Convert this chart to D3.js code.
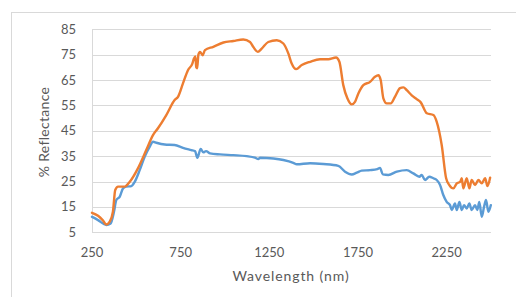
<!DOCTYPE html>
<html>
<head>
<meta charset="utf-8">
<script src="https://cdn.jsdelivr.net/npm/d3@7"></script>
<style>
  html, body { margin: 0; padding: 0; background: #fff; }
  svg { display: block; }
  text { font-family: Lato, "Open Sans", sans-serif; fill: #595959; }
</style>
</head>
<body>
<div id="chart"></div>
<script>
// Orange series (wavelength nm / % reflectance)
const orangeWl = [250, 284, 310, 331, 350, 368, 381, 397, 434, 463, 509, 556, 594, 622, 669, 716, 735, 763, 791, 816, 825, 833, 838, 843, 850, 859, 874, 887, 934, 991, 1047, 1103, 1141, 1160, 1185, 1207, 1244, 1292, 1329, 1357, 1376, 1401, 1433, 1480, 1536, 1583, 1626, 1645, 1667, 1690, 1715, 1733, 1752, 1780, 1818, 1846, 1865, 1878, 1893, 1912, 1935, 1959, 1987, 2006, 2025, 2053, 2081, 2104, 2138, 2175, 2194, 2222, 2247, 2265, 2288, 2307, 2326, 2335, 2344, 2363, 2378, 2391, 2410, 2429, 2448, 2467, 2480, 2495]
const orangeVal = [12.7, 11.5, 9.8, 8.1, 9.2, 13.1, 21.7, 23, 23, 24.9, 30.2, 37.4, 43.3, 46, 51.2, 57.1, 58.4, 63.7, 68.9, 71.5, 73.5, 74.3, 70, 69.6, 75, 76.1, 74.8, 76.8, 78.1, 79.8, 80.4, 81, 80, 78, 76.1, 77.4, 80, 80.7, 79.4, 75.5, 71.5, 69.3, 70.9, 72.2, 73.2, 73.2, 73.9, 72.2, 63, 57.8, 55.4, 56.4, 59.7, 63, 64.3, 66.3, 66.9, 65, 57.8, 55.8, 55.8, 58.5, 61.8, 62.1, 61, 59, 57.5, 56.2, 51.9, 51.2, 48.5, 39.4, 26.3, 23.6, 22.3, 24.3, 24.9, 26.3, 22.3, 26.3, 22.3, 25.6, 23.6, 25.6, 24.3, 26.3, 23.2, 26.5]

// Blue series
const blueWl = [250, 284, 331, 355, 374, 387, 406, 425, 443, 472, 491, 519, 547, 575, 594, 613, 660, 716, 763, 810, 831, 844, 863, 878, 893, 916, 972, 1047, 1122, 1169, 1188, 1198, 1273, 1329, 1385, 1405, 1480, 1555, 1639, 1677, 1715, 1743, 1771, 1818, 1859, 1874, 1890, 1921, 1969, 2025, 2062, 2096, 2109, 2128, 2152, 2175, 2194, 2213, 2231, 2250, 2269, 2279, 2297, 2307, 2322, 2335, 2348, 2363, 2378, 2391, 2410, 2423, 2434, 2448, 2461, 2472, 2485, 2499]
const blueVal = [11.1, 9.8, 7.9, 8.5, 13.1, 17.7, 19, 22.3, 23, 23.2, 24.9, 29.5, 34.8, 38.7, 40.7, 40.3, 39.6, 39.4, 38.3, 37.4, 37, 34.4, 37.8, 36.5, 37, 36.1, 35.7, 35.4, 35, 34.4, 33.9, 34.4, 34.1, 33.5, 32.4, 31.8, 32.2, 31.9, 31.2, 28.9, 27.8, 28.5, 29.3, 29.5, 29.9, 30.4, 27.8, 27.6, 28.9, 29.5, 28.2, 26.9, 27.6, 25.6, 26.9, 26.3, 25.6, 23.6, 19.7, 17, 15.7, 13.8, 16.4, 13.8, 17, 13.8, 15.7, 14.4, 16.4, 13.8, 15.7, 13.8, 17, 11.1, 15.1, 17.7, 13.1, 15.7]

const xTicks = [250, 750, 1250, 1750, 2250]
const yTicks = [5, 15, 25, 35, 45, 55, 65, 75, 85]

const width = 516
const height = 297

const svg = d3.select('#chart').append('svg')
  .attr('width', width)
  .attr('height', height)

// chart area border (cut off at the right / bottom edge)
svg.append('rect')
  .attr('x', 11.5).attr('y', 12.5)
  .attr('width', 520).attr('height', 300)
  .attr('fill', '#fff')
  .attr('stroke', '#d9d9d9')

const x = d3.scaleLinear().domain([250, 2500]).range([92, 491])
const y = d3.scaleLinear().domain([5, 85]).range([232.3, 29.3])

// gridlines
svg.append('g')
  .selectAll('line')
  .data(yTicks)
  .join('line')
  .attr('x1', x(250)).attr('x2', x(2500))
  .attr('y1', d => Math.round(y(d)) + 0.5)
  .attr('y2', d => Math.round(y(d)) + 0.5)
  .attr('stroke', '#d9d9d9')
  .attr('stroke-width', 1)

// left axis line
svg.append('line')
  .attr('x1', Math.round(x(250)) + 0.5).attr('x2', Math.round(x(250)) + 0.5)
  .attr('y1', y(85)).attr('y2', y(5))
  .attr('stroke', '#d9d9d9')

// y tick labels
svg.append('g')
  .selectAll('text')
  .data(yTicks)
  .join('text')
  .attr('x', 76)
  .attr('y', d => y(d))
  .attr('dy', '0.35em')
  .attr('text-anchor', 'end')
  .attr('font-size', 13)
  .text(d => d)

// x tick labels
svg.append('g')
  .selectAll('text')
  .data(xTicks)
  .join('text')
  .attr('x', d => x(d))
  .attr('y', 256.5)
  .attr('text-anchor', 'middle')
  .attr('font-size', 13)
  .text(d => d)

// axis titles
svg.append('text')
  .attr('x', 291)
  .attr('y', 281)
  .attr('text-anchor', 'middle')
  .attr('font-size', 14)
  .attr('letter-spacing', 0.9)
  .text('Wavelength (nm)')

svg.append('text')
  .attr('transform', 'translate(49,132) rotate(-90)')
  .attr('text-anchor', 'middle')
  .attr('font-size', 14)
  .attr('letter-spacing', 0.3)
  .text('% Reflectance')

const line = d3.line()
  .x(d => x(d[0]))
  .y(d => y(d[1]))
  .curve(d3.curveMonotoneX)

const series = [
  { wl: blueWl, val: blueVal, color: '#5b9bd5' },
  { wl: orangeWl, val: orangeVal, color: '#ed7d31' }
]

svg.append('g')
  .selectAll('path')
  .data(series)
  .join('path')
  .attr('d', s => line(d3.zip(s.wl, s.val)))
  .attr('fill', 'none')
  .attr('stroke', s => s.color)
  .attr('stroke-width', 2.4)
  .attr('stroke-linejoin', 'round')
  .attr('stroke-linecap', 'round')
</script>
</body>
</html>
